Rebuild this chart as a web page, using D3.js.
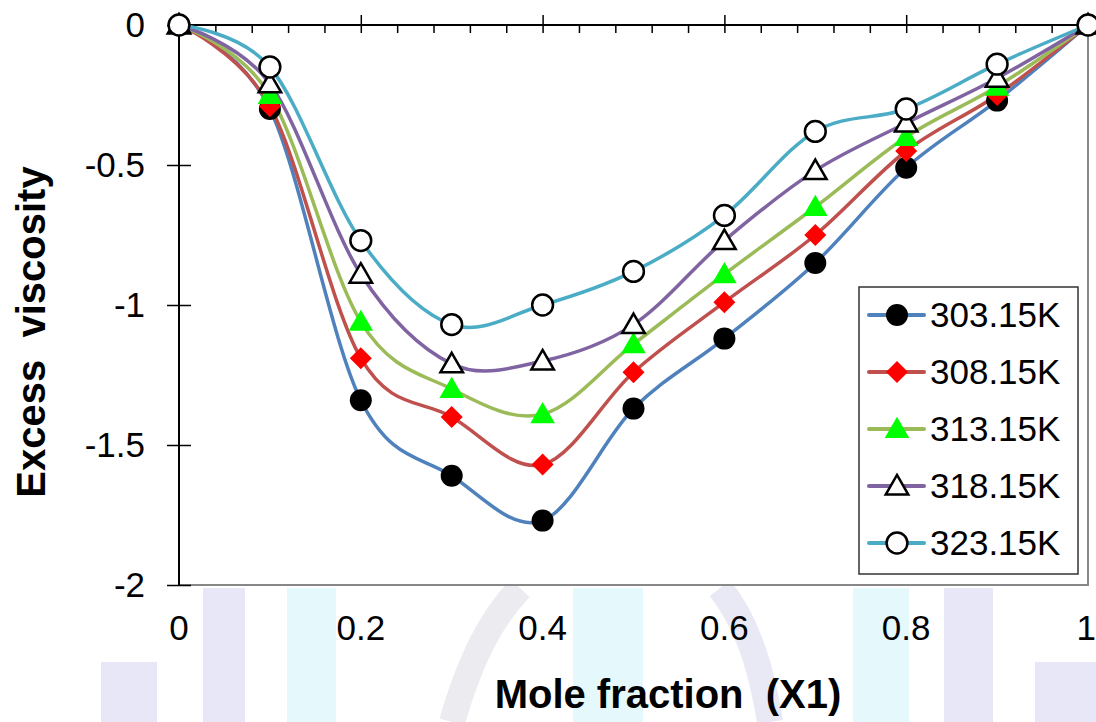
<!DOCTYPE html>
<html>
<head>
<meta charset="utf-8">
<script src="https://cdn.jsdelivr.net/npm/d3@7"></script>
<style>
  html, body { margin: 0; padding: 0; background: #fff; }
  svg { display: block; }
  text { font-family: "Liberation Sans", Arial, sans-serif; fill: #000; }
</style>
</head>
<body>
<svg id="chart" width="1096" height="722"></svg>
<script>
// ---- data ----
const moleFraction = [0, 0.1, 0.2, 0.3, 0.4, 0.5, 0.6, 0.7, 0.8, 0.9, 1];
const seriesNames = ["303.15K", "308.15K", "313.15K", "318.15K", "323.15K"];
const v303 = [0, -0.30, -1.34, -1.61, -1.77, -1.37, -1.12, -0.85, -0.51, -0.27, 0];
const v308 = [0, -0.29, -1.19, -1.40, -1.57, -1.24, -0.99, -0.75, -0.45, -0.25, 0];
const v313 = [0, -0.25, -1.06, -1.30, -1.39, -1.14, -0.89, -0.65, -0.40, -0.22, 0];
const v318 = [0, -0.21, -0.89, -1.21, -1.20, -1.07, -0.77, -0.52, -0.35, -0.19, 0];
const v323 = [0, -0.15, -0.77, -1.07, -1.00, -0.88, -0.68, -0.38, -0.30, -0.14, 0];
const xTicks = [0, 0.2, 0.4, 0.6, 0.8, 1];
const yTicks = [0, -0.5, -1, -1.5, -2];
const xTickLabels = ["0", "0.2", "0.4", "0.6", "0.8", "1"];
const yTickLabels = ["0", "-0.5", "-1", "-1.5", "-2"];
const xTitle = "Mole fraction  (X1)";
const yTitle = "Excess  viscosity";

const values = [v303, v308, v313, v318, v323];
const lineColors = ["#4F81BD", "#C0504D", "#9BBB59", "#8064A2", "#4BACC6"];

// custom diamond symbol (half-diagonal from size)
const diamondSym = {
  draw(ctx, size) {
    const r = Math.sqrt(size / 2);
    ctx.moveTo(0, -r); ctx.lineTo(r, 0); ctx.lineTo(0, r); ctx.lineTo(-r, 0); ctx.closePath();
  }
};
const markers = [
  { type: d3.symbolCircle, size: 380, fill: "#000", stroke: "none", sw: 0 },
  { type: diamondSym, size: 242, fill: "#FF0000", stroke: "none", sw: 0 },
  { type: d3.symbolTriangle, size: 260, fill: "#00FF00", stroke: "none", sw: 0 },
  { type: d3.symbolTriangle, size: 220, fill: "#fff", stroke: "#000", sw: 2.5 },
  { type: d3.symbolCircle, size: 340, fill: "#fff", stroke: "#000", sw: 2.5 }
];

const svg = d3.select("#chart");

// ---- faint watermark background ----
const wm = svg.append("g").attr("opacity", 0.4);
const stripes = [
  [203, 245, 588, "#c4c4ee"], [287, 336, 588, "#bfeefa"], [573, 643, 588, "#bfeefa"],
  [853, 909, 588, "#bfeefa"], [944, 993, 588, "#c4c4ee"], [101, 157, 662, "#c4c4ee"],
  [1035, 1096, 662, "#c4c4ee"]
];
stripes.forEach(s => {
  wm.append("rect").attr("x", s[0]).attr("y", s[2]).attr("width", s[1] - s[0])
    .attr("height", 722 - s[2]).attr("fill", s[3]);
});
wm.append("path").attr("d", "M452,722 C470,660 490,620 520,588")
  .attr("fill", "none").attr("stroke", "#d0d0da").attr("stroke-width", 26);
wm.append("path").attr("d", "M770,722 C760,660 745,620 720,588")
  .attr("fill", "none").attr("stroke", "#cacae8").attr("stroke-width", 26);

// ---- scales ----
const x = d3.scaleLinear().domain([0, 1]).range([179, 1088]);
const y = d3.scaleLinear().domain([-2, 0]).range([585, 25]);

// plot background
svg.append("rect").attr("x", x(0)).attr("y", y(0)).attr("width", x(1) - x(0))
  .attr("height", y(-2) - y(0)).attr("fill", "#fff");

// grey frame (bottom, right)
svg.append("path")
  .attr("d", `M${x(0)},${y(-2)}H${x(1)}V${y(0)}`)
  .attr("fill", "none").attr("stroke", "#888").attr("stroke-width", 2);

// ---- top x axis (at y = 0) ----
const xAxisMinor = d3.axisBottom(x).tickValues(d3.range(0, 1.0001, 0.04)).tickSize(8).tickFormat("");
const gxm = svg.append("g").attr("transform", `translate(0,${y(0)})`).call(xAxisMinor);
gxm.select(".domain").remove();
gxm.selectAll("line").attr("stroke", "#000").attr("stroke-width", 1.5);
const xAxisMajor = d3.axisTop(x).tickValues(xTicks).tickSize(10).tickFormat("");
const gx = svg.append("g").attr("transform", `translate(0,${y(0)})`).call(xAxisMajor);
gx.select(".domain").attr("stroke", "#000").attr("stroke-width", 2).attr("d", `M${x(0)},0H${x(1)}`);
gx.selectAll("line").attr("stroke", "#000").attr("stroke-width", 1.5);

// x tick labels at bottom
svg.append("g").selectAll("text").data(xTicks).join("text")
  .attr("x", d => d === 1 ? 1096 : x(d)).attr("y", 640)
  .attr("text-anchor", d => d === 1 ? "end" : "middle")
  .attr("font-size", 35).text((d, i) => xTickLabels[i]);

// ---- y axis ----
const yAxis = d3.axisLeft(y).tickValues(yTicks).tickSize(12).tickFormat("");
const gy = svg.append("g").attr("transform", `translate(${x(0)},0)`).call(yAxis);
gy.select(".domain").attr("stroke", "#000").attr("stroke-width", 2).attr("d", `M0,${y(0)}V${y(-2)}`);
gy.selectAll("line").attr("stroke", "#000").attr("stroke-width", 1.5).attr("x2", -12).attr("x1", 12);

svg.append("g").selectAll("text").data(yTicks).join("text")
  .attr("x", 145).attr("y", d => y(d) + 12).attr("text-anchor", "end")
  .attr("font-size", 35).text((d, i) => yTickLabels[i]);

// ---- titles ----
svg.append("text").attr("x", 668).attr("y", 708).attr("text-anchor", "middle")
  .attr("font-size", 40).attr("font-weight", "bold").style("white-space", "pre")
  .attr("xml:space", "preserve").text(xTitle);
svg.append("text").attr("transform", "translate(45,332) rotate(-90)")
  .attr("text-anchor", "middle").attr("font-size", 40).attr("font-weight", "bold")
  .style("white-space", "pre").attr("xml:space", "preserve").text(yTitle);

// ---- lines ----
const line = d3.line().x((d, i) => x(moleFraction[i])).y(d => y(d))
  .curve(d3.curveCardinal.tension(0));
const gLines = svg.append("g");
values.forEach((vals, k) => {
  gLines.append("path").datum(vals).attr("d", line).attr("fill", "none")
    .attr("stroke", lineColors[k]).attr("stroke-width", 3.5);
});

// ---- markers ----
function drawMarker(g, k, cx, cy) {
  const m = markers[k];
  const isTri = m.type === d3.symbolTriangle;
  g.append("path").attr("d", d3.symbol().type(m.type).size(m.size))
    .attr("transform", `translate(${cx},${cy + (isTri ? 2 : 0)})`)
    .attr("fill", m.fill).attr("stroke", m.stroke).attr("stroke-width", m.sw);
}
const gMarks = svg.append("g");
values.forEach((vals, k) => {
  vals.forEach((v, i) => drawMarker(gMarks, k, x(moleFraction[i]), y(v)));
});

// ---- legend ----
const lg = svg.append("g");
lg.append("rect").attr("x", 859).attr("y", 287).attr("width", 219).attr("height", 287)
  .attr("fill", "#fff").attr("stroke", "#333").attr("stroke-width", 1.5);
const legendY = d3.scalePoint().domain(seriesNames).range([315, 543]);
seriesNames.forEach((name, k) => {
  const ly = legendY(name);
  lg.append("line").attr("x1", 869).attr("x2", 924).attr("y1", ly).attr("y2", ly)
    .attr("stroke", lineColors[k]).attr("stroke-width", 4).attr("stroke-linecap", "round");
  drawMarker(lg, k, 897, ly);
  lg.append("text").attr("x", 930).attr("y", ly + 12).attr("font-size", 35).text(name);
});
</script>
</body>
</html>
